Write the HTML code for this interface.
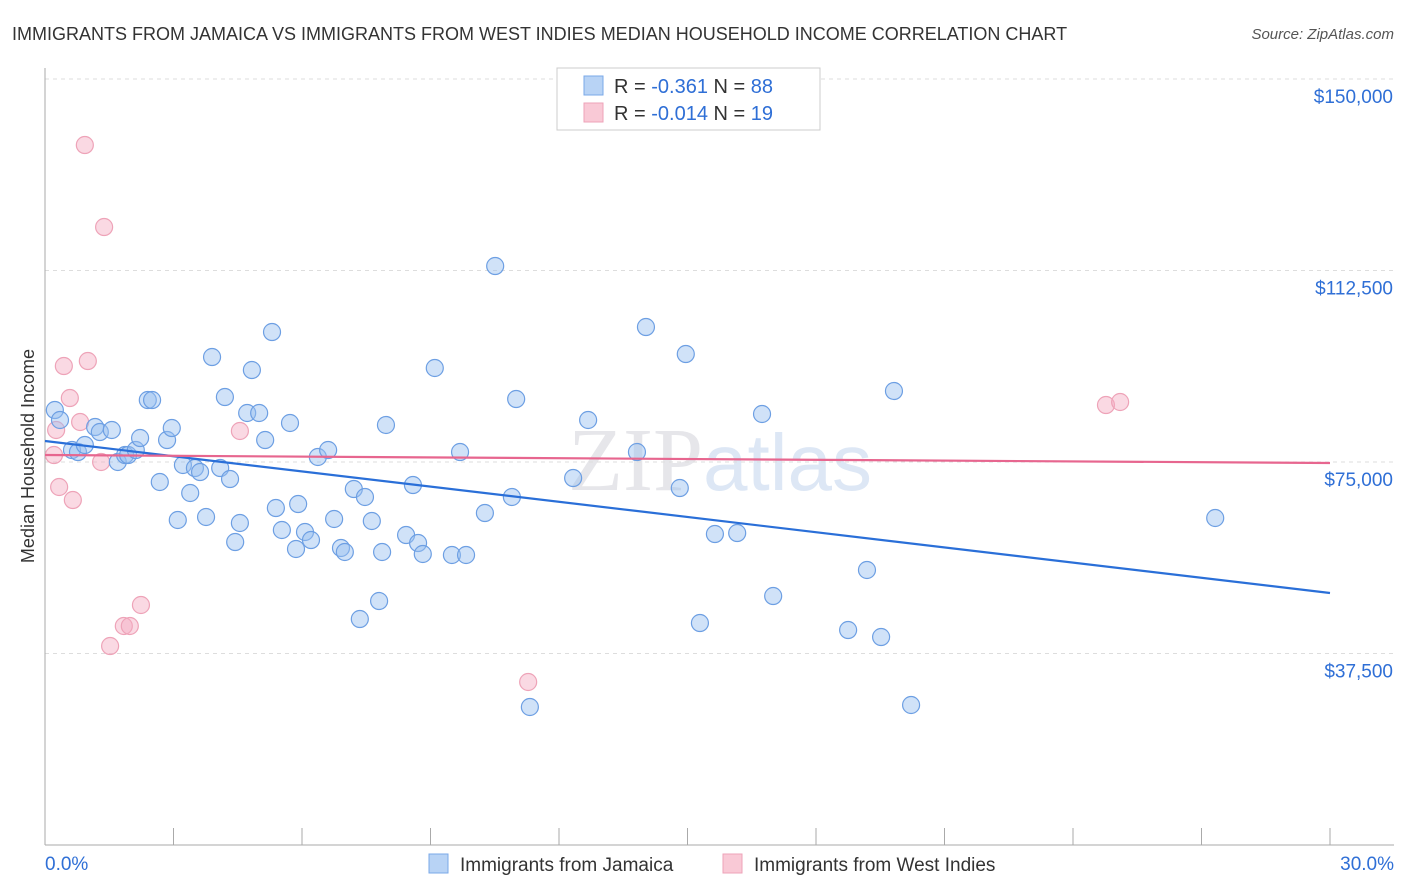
<!DOCTYPE html>
<html><head><meta charset="utf-8"><style>
body{margin:0;background:#fff;font-family:"Liberation Sans",sans-serif;}
</style></head><body>
<svg id="chart" width="1406" height="892" style="display:block">
<text x="12" y="40" font-size="18" fill="#333">IMMIGRANTS FROM JAMAICA VS IMMIGRANTS FROM WEST INDIES MEDIAN HOUSEHOLD INCOME CORRELATION CHART</text>
<text x="1394" y="39" font-size="15" fill="#555" font-style="italic" text-anchor="end">Source: ZipAtlas.com</text>
<text x="720" y="490" font-size="90" fill="#e6e6ea" text-anchor="middle" font-family="Liberation Serif">ZIP<tspan fill="#dde7f5" font-family="Liberation Sans" font-size="80">atlas</tspan></text>
<text transform="translate(34,456) rotate(-90)" font-size="18" fill="#333" text-anchor="middle">Median Household Income</text>
<g id="grid"></g><g id="ticks"></g><g id="marks"></g>
<g>
<rect x="557" y="68" width="263" height="62" fill="#fff" stroke="#ccc"/>
<rect x="584" y="76" width="19" height="19" fill="#b8d3f5" stroke="#7aa8e8"/>
<text x="614" y="93" font-size="20" fill="#333">R = <tspan fill="#2f6fd6"> -0.361</tspan>   N = <tspan fill="#2f6fd6">88</tspan></text>
<rect x="584" y="103" width="19" height="19" fill="#f9c9d6" stroke="#eea3b8"/>
<text x="614" y="120" font-size="20" fill="#333">R = <tspan fill="#2f6fd6">-0.014</tspan>   N = <tspan fill="#2f6fd6"> 19</tspan></text>
</g>
<g>
<rect x="429" y="854" width="19" height="19" fill="#b8d3f5" stroke="#7aa8e8"/>
<text x="460" y="871" font-size="19" fill="#333">Immigrants from Jamaica</text>
<rect x="723" y="854" width="19" height="19" fill="#f9c9d6" stroke="#eea3b8"/>
<text x="754" y="871" font-size="19" fill="#333">Immigrants from West Indies</text>
</g>
</svg>
<script>
const jamX=[0.23,0.35,0.63,0.77,0.93,1.17,1.28,1.56,1.70,1.87,1.94,2.12,2.22,2.40,2.50,2.68,2.85,2.96,3.10,3.22,3.39,3.50,3.62,3.76,3.90,4.09,4.20,4.32,4.44,4.55,4.72,4.83,5.00,5.14,5.30,5.39,5.53,5.72,5.86,5.91,6.07,6.21,6.37,6.61,6.75,6.91,7.00,7.21,7.47,7.63,7.80,7.87,7.96,7.35,8.43,8.59,8.71,8.82,9.10,9.50,9.69,9.83,10.27,10.51,10.90,11.00,11.32,12.33,12.68,13.82,14.03,14.82,14.96,15.29,15.64,16.16,16.74,17.00,18.75,19.19,19.52,19.82,20.22,27.32];
const jamY=[85182,83224,77349,76957,78328,81853,80874,81266,75000,76370,76370,77349,79699,87140,87140,71083,79307,81657,63642,74412,68929,73824,73041,64230,95560,73824,87727,71670,59333,63055,84595,93015,84595,79307,100456,65991,61684,82637,57963,66774,61292,59725,75979,77349,63838,58159,57376,69712,68146,63446,47780,57376,82245,44255,60704,70495,59137,56984,93407,56788,76957,56788,65012,113380,68146,87336,27023,71866,83224,76957,101434,69908,96148,43472,60900,61096,84399,48759,42101,53851,40730,88902,27415,64034];
const wiX=[0.21,0.26,0.33,0.44,0.58,0.65,0.82,0.93,1.00,1.31,1.38,1.52,1.84,1.98,2.24,4.55,11.28,24.77,25.10];
const wiY=[76370,81266,70104,93798,87532,67558,82833,137074,94777,75000,121017,38968,42885,42885,46997,81070,31919,86161,86749];
const yTicks=[37500,75000,112500,150000];
const yTickLabels=["$37,500","$75,000","$112,500","$150,000"];
const jamFit=[79111,49347];
const wiFit=[76370,74804];
const NS='http://www.w3.org/2000/svg';
const sx=v=>45+v/30*1285;
const sy=v=>845-v/37500*191.5;
function mk(parent,tag,attrs){const e=document.createElementNS(NS,tag);for(const k in attrs)e.setAttribute(k,attrs[k]);document.getElementById(parent).appendChild(e);return e;}
yTicks.forEach((t,i)=>{
 const l=mk('grid','line',{x1:45,x2:1394,y1:sy(t),y2:sy(t),stroke:'#ddd','stroke-dasharray':'4,4'});
 
 
 const tx=mk('ticks','text',{x:1393,y:sy(t)+24,'font-size':19,fill:'#2f6fd6','text-anchor':'end'});
 tx.textContent=yTickLabels[i];
 
 
});
const ax=mk('ticks','line',{x1:45,x2:45,y1:68,y2:845,stroke:'#aaa'});


const bx=mk('ticks','line',{x1:45,x2:1394,y1:845,y2:845,stroke:'#aaa'});


for(let i=1;i<=10;i++){const t=mk('ticks','line',{x1:sx(i*3),x2:sx(i*3),y1:828,y2:845,stroke:'#aaa'});
 
 }
const x0=mk('ticks','text',{x:45,y:870,'font-size':19,fill:'#2f6fd6'});x0.textContent='0.0%';


const x1=mk('ticks','text',{x:1394,y:870,'font-size':19,fill:'#2f6fd6','text-anchor':'end'});x1.textContent='30.0%';


wiX.forEach((x,i)=>{const c=mk('marks','circle',{cx:sx(x),cy:sy(wiY[i]),r:8.5,fill:'rgba(245,170,192,0.45)',stroke:'#eea3b8','stroke-width':1.2});
 
 });
jamX.forEach((x,i)=>{const c=mk('marks','circle',{cx:sx(x),cy:sy(jamY[i]),r:8.5,fill:'rgba(150,190,240,0.45)',stroke:'#6d9fe3','stroke-width':1.2});
 
 });
const l1=mk('marks','line',{x1:sx(0),y1:sy(jamFit[0]),x2:sx(30),y2:sy(jamFit[1]),stroke:'#2a6fd8','stroke-width':2.2});


const l2=mk('marks','line',{x1:sx(0),y1:sy(wiFit[0]),x2:sx(30),y2:sy(wiFit[1]),stroke:'#e7668f','stroke-width':2.2});


</script>
</body></html>
